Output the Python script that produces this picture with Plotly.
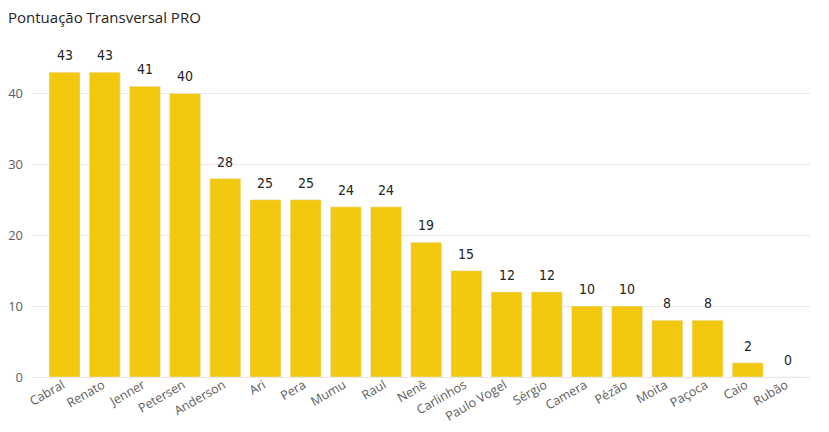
import plotly.graph_objects as go

nomes = ["Cabral", "Renato", "Jenner", "Petersen", "Anderson", "Ari", "Pera", "Mumu",
         "Raul", "Nenê", "Carlinhos", "Paulo Vogel", "Sérgio", "Camera", "Pézão",
         "Moita", "Paçoca", "Caio", "Rubão"]
pontos = [43, 43, 41, 40, 28, 25, 25, 24, 24, 19, 15, 12, 12, 10, 10, 8, 8, 2, 0]
y_ticks = [0, 10, 20, 30, 40]

fig = go.Figure()
fig.add_trace(go.Bar(x=nomes, y=pontos, marker_color="#F2C80F",
                     hoverinfo="x+y"))

# rótulos de dados um pouco acima das barras (estilo Power BI)
for n, p in zip(nomes, pontos):
    fig.add_annotation(x=n, y=p, text=str(p), showarrow=False,
                       yanchor="bottom", yshift=7,
                       font=dict(family="DejaVu Sans Condensed, sans-serif",
                                 size=14, color="#252423"))

# a página tem 8px de margem no body: figura menor para caber na janela
fig.update_layout(
    width=813, height=416,
    plot_bgcolor="white", paper_bgcolor="white",
    font=dict(family="Open Sans, sans-serif", size=13, color="#605E5C"),
    title=dict(text="Pontuação Transversal PRO", x=0, xanchor="left",
               y=1, yanchor="top", pad=dict(l=0, t=4),
               font=dict(family="Open Sans, sans-serif", size=15, color="#252423")),
    bargap=0.23,
    showlegend=False,
    margin=dict(l=24, r=11, t=50, b=47),
    xaxis=dict(range=[-0.81, 18.55], tickangle=-30, showgrid=False, showline=True,
               linecolor="#E6E6E6", ticks="", automargin=False,
               ticklabelstandoff=-5, ticklabelshift=-2,
               tickfont=dict(size=12.5, color="#605E5C")),
    yaxis=dict(range=[0, 45], tickvals=y_ticks, gridcolor="#E9E9E9", zeroline=False,
               ticks="", ticklabelstandoff=8, automargin=False,
               tickfont=dict(size=13, color="#605E5C")),
)

fig.write_html("out.html")
